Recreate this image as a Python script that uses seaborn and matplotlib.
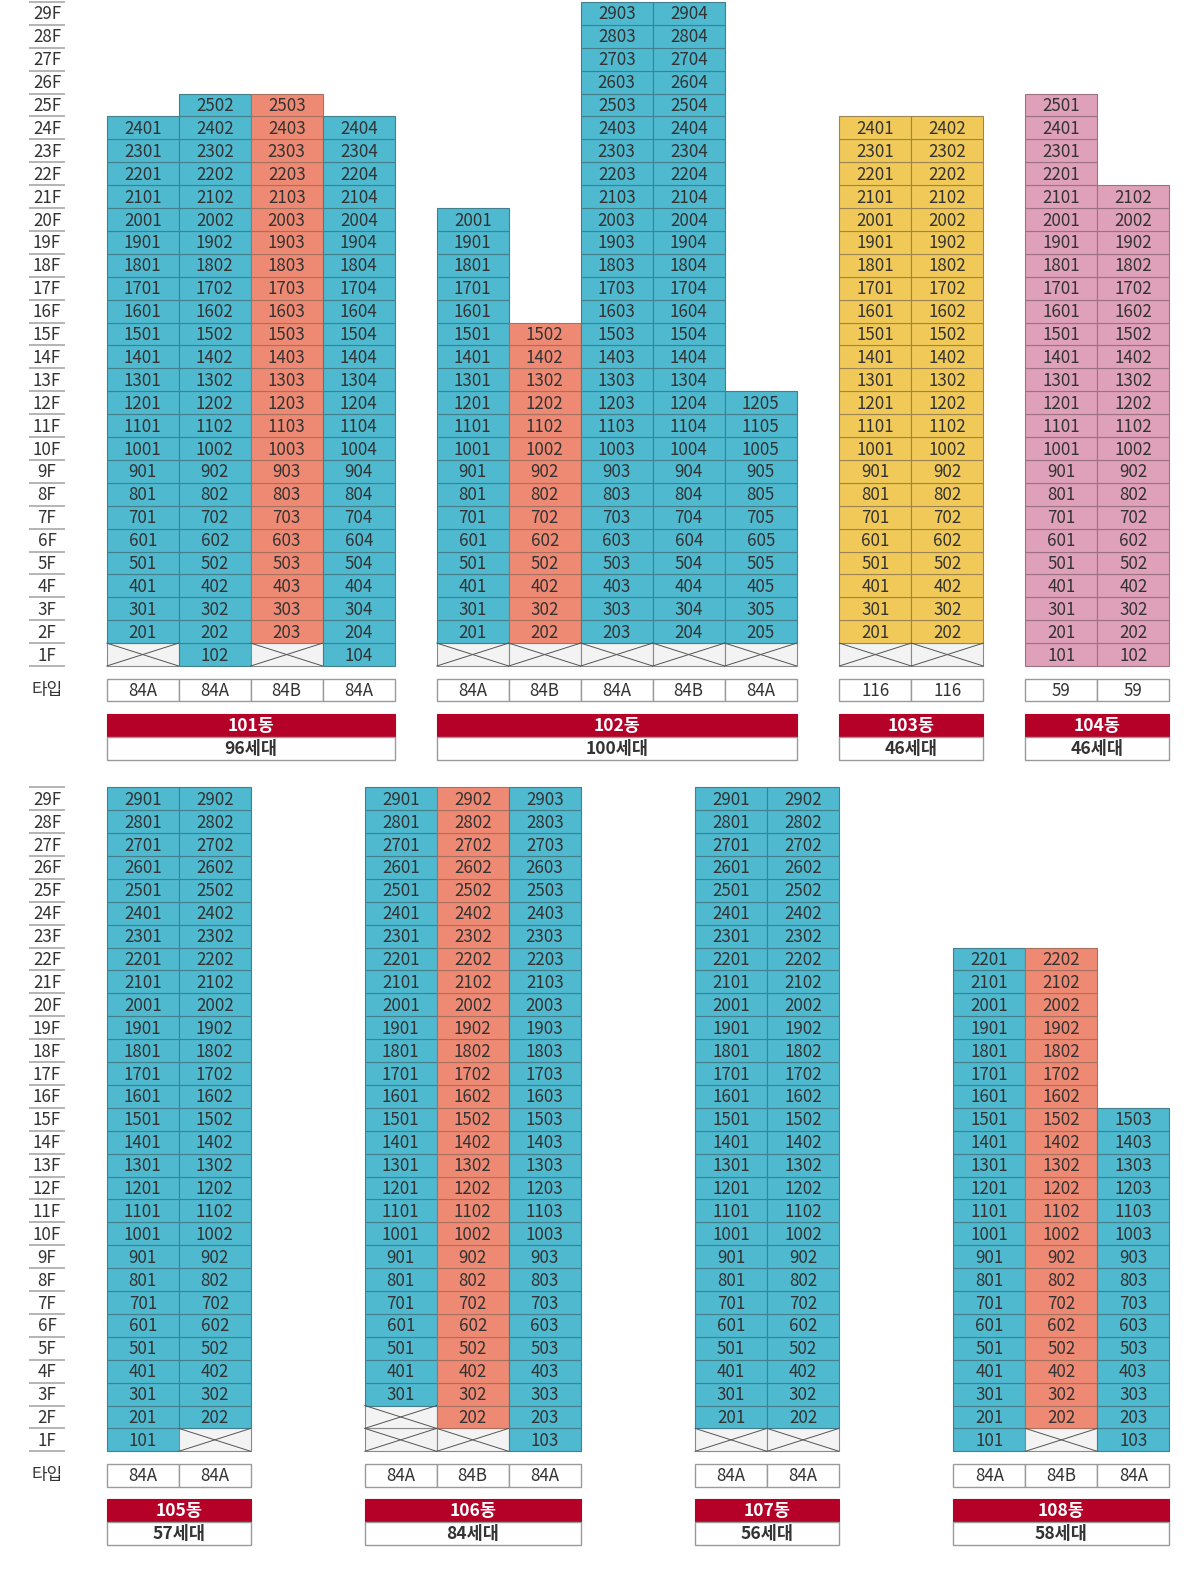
import matplotlib
matplotlib.use("Agg")
import matplotlib.pyplot as plt
import seaborn as sns

sns.set_theme(style="white")
plt.rcParams['font.family'] = ['Noto Sans CJK KR', 'DejaVu Sans']

# ---------------- data ----------------
names = ["101동", "102동", "103동", "104동", "105동", "106동", "107동", "108동"]
households = ["96세대", "100세대", "46세대", "46세대", "57세대", "84세대", "56세대", "58세대"]
types = [
    ["84A", "84A", "84B", "84A"],
    ["84A", "84B", "84A", "84B", "84A"],
    ["116", "116"],
    ["59", "59"],
    ["84A", "84A"],
    ["84A", "84B", "84A"],
    ["84A", "84A"],
    ["84A", "84B", "84A"],
]
top_floor = [
    [24, 25, 25, 24],
    [20, 15, 29, 29, 12],
    [24, 24],
    [25, 21],
    [29, 29],
    [29, 29, 29],
    [29, 29],
    [22, 22, 15],
]
low_floor = [
    [2, 1, 2, 1],
    [2, 2, 2, 2, 2],
    [2, 2],
    [1, 1],
    [1, 2],
    [3, 2, 1],
    [2, 2],
    [1, 2, 1],
]
unit_color = [
    ["blue", "blue", "salmon", "blue"],
    ["blue", "salmon", "blue", "blue", "blue"],
    ["yellow", "yellow"],
    ["pink", "pink"],
    ["blue", "blue"],
    ["blue", "salmon", "blue"],
    ["blue", "blue"],
    ["blue", "salmon", "blue"],
]
floor_labels = [f"{k}F" for k in range(1, 30)]
type_label = "타입"

# ---------------- layout / style ----------------
panel = [0, 0, 0, 0, 1, 1, 1, 1]
x_start = [106.7, 436.7, 839.3, 1025.3, 106.8, 364.7, 695.0, 953.3]
COLW = 72.0
ROWH = 22.9
faces = {"blue": "#4EB9CF", "salmon": "#EE8A74", "yellow": "#F0C958", "pink": "#DFA0B9"}
edges = {"blue": "#447F8C", "salmon": "#A8705F", "yellow": "#9C8550", "pink": "#9C7282"}
EMPTY_FACE = "#F2F3F2"
EMPTY_EDGE = "#8A8A8A"
RED = "#B50028"
TXT = "#333333"
BOXEDGE = "#9A9A9A"
FS = 12.2

fig = plt.figure(figsize=(12, 15.8), dpi=100)

# panel pixel geometry: (pixel y of floor 0, pixel top, pixel bottom)
panels_geo = [(666.0, 0.0, 780.0), (1451.3, 780.0, 1580.0)]
axes = []
for base, ptop, pbot in panels_geo:
    ax = fig.add_axes([0, 1 - pbot / 1580, 1, (pbot - ptop) / 1580])
    ax.set_xlim(0, 1200)
    ax.set_ylim(-(pbot - base) / ROWH, (base - ptop) / ROWH)
    ax.axis("off")
    axes.append(ax)

# floor labels
for ax in axes:
    for k, lab in enumerate(floor_labels, start=1):
        ax.text(47, k - 0.55, lab, ha="center", va="center", fontsize=FS, color=TXT)
    ax.hlines(range(0, 30), 29, 64.7, color="#A0A0A0", lw=1.1)
    ax.text(47, -1.05, type_label, ha="center", va="center", fontsize=FS, color=TXT)

for b in range(len(names)):
    ax = axes[panel[b]]
    x0 = x_start[b]
    ncol = len(types[b])
    for c in range(ncol):
        xl = x0 + c * COLW
        col = unit_color[b][c]
        # empty ground cells
        for f in range(1, low_floor[b][c]):
            ax.bar(xl, 1, bottom=f - 1, width=COLW, align="edge", color=EMPTY_FACE,
                   edgecolor=EMPTY_EDGE, linewidth=0.8, zorder=2)
            ax.plot([xl, xl + COLW], [f, f - 1], color="#555555", lw=0.7, zorder=3)
            ax.plot([xl, xl + COLW], [f - 1, f], color="#555555", lw=0.7, zorder=3)
        # units
        for f in range(low_floor[b][c], top_floor[b][c] + 1):
            ax.bar(xl, 1, bottom=f - 1, width=COLW, align="edge", color=faces[col],
                   edgecolor=edges[col], linewidth=0.8, zorder=2)
            ax.text(xl + COLW / 2, f - 0.55, f"{f * 100 + c + 1}", ha="center", va="center",
                    fontsize=FS, color=TXT, zorder=4)
        # type box
        ax.bar(xl, 1, bottom=-1.55, width=COLW, align="edge", color="white",
               edgecolor=BOXEDGE, linewidth=1.0, zorder=2)
        ax.text(xl + COLW / 2, -1.08, types[b][c], ha="center", va="center",
                fontsize=FS, color=TXT, zorder=4)
    w = ncol * COLW
    ax.bar(x0, 1, bottom=-3.1, width=w, align="edge", color=RED, edgecolor=RED,
           linewidth=0.8, zorder=2)
    ax.text(x0 + w / 2, -2.62, names[b], ha="center", va="center", fontsize=12.6,
            color="white", fontweight="bold", zorder=4)
    ax.bar(x0, 1, bottom=-4.1, width=w, align="edge", color="white", edgecolor=BOXEDGE,
           linewidth=1.0, zorder=2)
    ax.text(x0 + w / 2, -3.62, households[b], ha="center", va="center", fontsize=12.6,
            color=TXT, fontweight="bold", zorder=4)

fig.savefig("out.png", dpi=100)
